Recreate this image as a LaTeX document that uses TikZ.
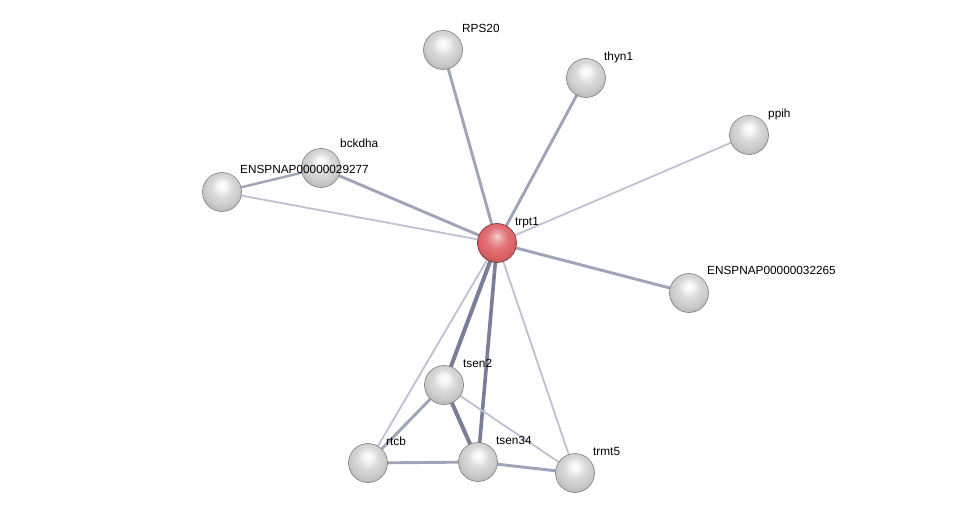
\documentclass[tikz,border=0pt]{standalone}
\usepackage{fontspec}
\setmainfont{Liberation Sans}
\usetikzlibrary{backgrounds}
\definecolor{ethick}{RGB}{122,126,152}
\definecolor{emed}{RGB}{160,164,184}
\definecolor{ethin}{RGB}{190,193,210}
\definecolor{redball}{RGB}{222,98,102}
\pgfdeclareradialshading{greysphere}{\pgfpoint{0bp}{9bp}}{%
  color(0bp)=(white); color(6bp)=(white!96!black); color(14bp)=(white!85!black);
  color(22bp)=(white!80!black); color(29bp)=(white!72!black); color(33bp)=(white!55!black);
  color(50bp)=(white!50!black)}
\pgfdeclareradialshading{redsphere}{\pgfpoint{0bp}{9bp}}{%
  color(0bp)=(white!70!redball); color(6bp)=(white!40!redball); color(14bp)=(white!10!redball);
  color(22bp)=(redball); color(29bp)=(redball!90!black); color(33bp)=(redball!60!black);
  color(50bp)=(redball!50!black)}
\begin{document}
\begin{tikzpicture}[x=1pt,y=-1pt,
  prot/.style={circle,minimum size=39pt,inner sep=0pt,shading=greysphere,draw=white!50!black,line width=0.6pt},
  query/.style={prot,shading=redsphere,draw=redball!50!black},
  lbl/.style={anchor=base west,inner sep=0pt,font=\fontsize{11.8}{14}\selectfont},
  wthick/.style={draw=ethick,line width=4pt},
  wmed/.style={draw=emed,line width=2.9pt},
  wthin/.style={draw=ethin,line width=1.8pt}]
\useasboundingbox (0,0) rectangle (976,518);
% nodes
\node[prot] (rps20) at (443,50) {};
\node[prot] (thyn1) at (586,78) {};
\node[prot] (ppih) at (749,135) {};
\node[prot] (bckdha) at (321,168) {};
\node[prot] (e29277) at (222,192) {};
\node[query] (trpt1) at (497,243) {};
\node[prot] (e32265) at (689,293) {};
\node[prot] (tsen2) at (444,385) {};
\node[prot] (rtcb) at (368,463) {};
\node[prot] (tsen34) at (478,462) {};
\node[prot] (trmt5) at (575,473) {};
% labels
\node[lbl] (l-rps20) at ([xshift=19pt,yshift=17pt]rps20.center) {RPS20};
\node[lbl] (l-thyn1) at ([xshift=18pt,yshift=17pt]thyn1.center) {thyn1};
\node[lbl] (l-ppih) at ([xshift=19pt,yshift=17pt]ppih.center) {ppih};
\node[lbl] (l-bckdha) at ([xshift=19pt,yshift=20pt]bckdha.center) {bckdha};
\node[lbl] (l-e29277) at ([xshift=18pt,yshift=18pt]e29277.center) {ENSPNAP00000029277};
\node[lbl] (l-trpt1) at ([xshift=18pt,yshift=17pt]trpt1.center) {trpt1};
\node[lbl] (l-e32265) at ([xshift=18pt,yshift=18pt]e32265.center) {ENSPNAP00000032265};
\node[lbl] (l-tsen2) at ([xshift=19pt,yshift=18pt]tsen2.center) {tsen2};
\node[lbl] (l-rtcb) at ([xshift=18pt,yshift=18pt]rtcb.center) {rtcb};
\node[lbl] (l-tsen34) at ([xshift=18pt,yshift=18pt]tsen34.center) {tsen34};
\node[lbl] (l-trmt5) at ([xshift=18pt,yshift=18pt]trmt5.center) {trmt5};
% edges
\begin{scope}[on background layer]
\fill[white] (0,0) rectangle (976,518);
\draw[wmed] (trpt1.center) -- (rps20.center);
\draw[wmed] (trpt1.center) -- (thyn1.center);
\draw[wthin] (trpt1.center) -- (ppih.center);
\draw[wmed] (trpt1.center) -- (bckdha.center);
\draw[wthin] (trpt1.center) -- (e29277.center);
\draw[wmed] (trpt1.center) -- (e32265.center);
\draw[wthick] (trpt1.center) -- (tsen2.center);
\draw[wthick,line width=3.6pt] (trpt1.center) -- (tsen34.center);
\draw[wthin] (trpt1.center) -- (rtcb.center);
\draw[wthin] (trpt1.center) -- (trmt5.center);
\draw[wmed,line width=2.4pt] (bckdha.center) -- (e29277.center);
\draw[wmed] (tsen2.center) -- (rtcb.center);
\draw[wthick] (tsen2.center) -- (tsen34.center);
\draw[wthin] (tsen2.center) -- (trmt5.center);
\draw[wmed] (rtcb.center) -- (tsen34.center);
\draw[wmed] (tsen34.center) -- (trmt5.center);
\end{scope}
\end{tikzpicture}
\end{document}
